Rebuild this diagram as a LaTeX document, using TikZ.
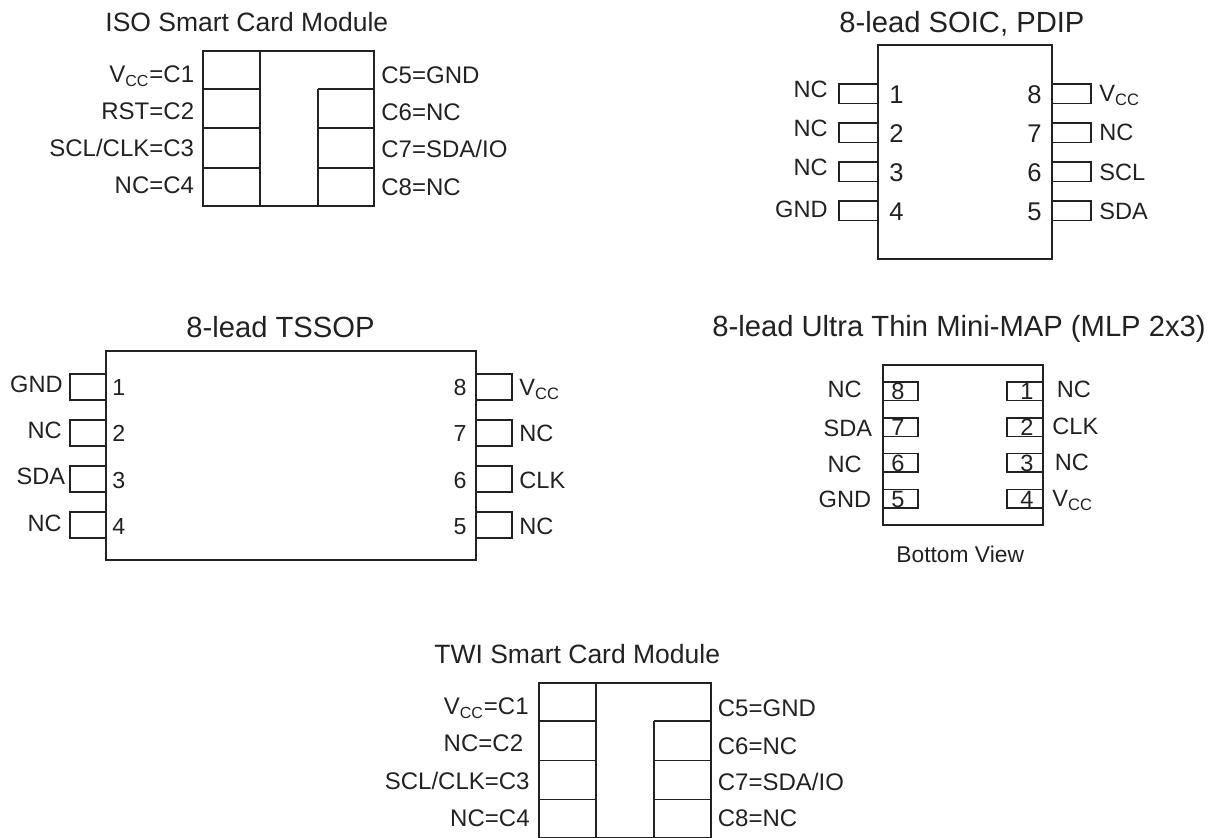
\documentclass[tikz,border=0pt]{standalone}
\usepackage{fontspec}
\setmainfont{Liberation Sans}
\newcommand{\Vcc}{V\textsubscript{CC}}
\tikzset{
	part/.style={draw=ink, line width=0.6pt},
	ttlbig/.style={font=\fontsize{14.6}{17}\selectfont, text=ink, inner sep=0pt, anchor=base west},
	ttlsmall/.style={font=\fontsize{13.25}{16}\selectfont, text=ink, inner sep=0pt, anchor=base west},
	pinl/.style={font=\fontsize{11.8}{14}\selectfont, text=ink, inner sep=0pt, anchor=base east},
	pinr/.style={font=\fontsize{11.8}{14}\selectfont, text=ink, inner sep=0pt, anchor=base west},
	cardl/.style={pinl, font=\fontsize{12}{14}\selectfont},
	cardr/.style={pinr, font=\fontsize{12}{14}\selectfont},
	numl/.style={font=\fontsize{12.8}{14}\selectfont, text=ink, inner sep=0pt, anchor=base west},
	numr/.style={font=\fontsize{12.8}{14}\selectfont, text=ink, inner sep=0pt, anchor=base east},
	numc/.style={font=\fontsize{11.8}{14}\selectfont, text=ink, inner sep=0pt, anchor=base}
}
\definecolor{ink}{HTML}{222222}
\begin{document}
\begin{tikzpicture}[x=0.5pt,y=-0.5pt]
	\useasboundingbox (0,0) rectangle (1218,838);
	% ISO module
	\node[ttlsmall] (isotitle) at (105,32) {ISO Smart Card Module};
	\draw[part] (203,51) rectangle (374,206);
	\draw[part] (260,51) -- (260,206);
	\draw[part] (318,89) -- (318,206);
	\foreach \y in {89,128,168} {
		\draw[part] (203,\y) -- (260,\y);
		\draw[part] (318,\y) -- (374,\y);
	}
	\foreach \y/\t/\n in {83/{\Vcc=C1}/a,120/{RST=C2}/b,157/{SCL/CLK=C3}/c,194/{NC=C4}/d}
		\node[cardl] (iso\n) at (194.5,\y) {\t};
	\foreach \y/\t/\n in {84/{C5=GND}/e,121/{C6=NC}/f,158/{C7=SDA/IO}/g,196/{C8=NC}/h}
		\node[cardr] (iso\n) at (381,\y) {\t};
	% SOIC, PDIP
	\node[ttlbig] (soictitle) at (839,33) {8-lead SOIC, PDIP};
	\draw[part] (878,45) rectangle (1052,259);
	\foreach \y in {84,123,162,201} {
		\draw[part] (878,\y) -- (839,\y) -- (839,\y+19.5) -- (878,\y+19.5);
		\draw[part] (1052,\y) -- (1091,\y) -- (1091,\y+19.5) -- (1052,\y+19.5);
	}
	\foreach \y/\t/\n in {98/NC/a,137/NC/b,176/NC/c,218/GND/d}
		\node[pinl] (soic\n) at (828,\y) {\t};
	\foreach \y/\t/\n in {102/{\Vcc}/e,141/NC/f,181/SCL/g,220/SDA/h}
		\node[pinr] (soic\n) at (1099,\y) {\t};
	\foreach \y/\t in {104/1,143/2,182/3,221/4}
		\node[numl] (soicnum\t) at (889,\y) {\t};
	\foreach \y/\t in {104/8,143/7,182/6,221/5}
		\node[numr] (soicnum\t) at (1042,\y) {\t};
	% TSSOP
	\node[ttlbig] (tssoptitle) at (186,338) {8-lead TSSOP};
	\draw[part] (106,351) rectangle (476,560);
	\foreach \y in {374,420,466,512} {
		\draw[part] (106,\y) -- (70,\y) -- (70,\y+26) -- (106,\y+26);
		\draw[part] (476,\y) -- (512,\y) -- (512,\y+26) -- (476,\y+26);
	}
	\node[pinl] (tssopa) at (63,393) {GND};
	\node[pinl] (tssopb) at (62,439) {NC};
	\node[pinl] (tssopc) at (65.5,485) {SDA};
	\node[pinl] (tssopd) at (62,531) {NC};
	\foreach \y/\t/\n in {396/{\Vcc}/e,442/NC/f,488/CLK/g,534/NC/h}
		\node[pinr] (tssop\n) at (519,\y) {\t};
	\foreach \y/\t in {396/1,442/2,488/3,534/4}
		\node[numl,font=\fontsize{11.6}{14}\selectfont] (tssopnum\t) at (112,\y) {\t};
	\foreach \y/\t in {396/8,442/7,488/6,534/5}
		\node[numr,font=\fontsize{11.6}{14}\selectfont] (tssopnum\t) at (467,\y) {\t};
	% Mini-MAP
	\node[ttlbig] (maptitle) at (712,337) {8-lead Ultra Thin Mini-MAP (MLP 2x3)};
	\draw[part] (883,365) rectangle (1043,525);
	\foreach \y in {382,418,453.5,489.5} {
		\draw[part] (883,\y) rectangle (918,\y+18.5);
		\draw[part] (1007,\y) rectangle (1043,\y+18.5);
	}
	\foreach \y/\t in {399.5/8,435.5/7,471.5/6,507/5}
		\node[numc] (mapnum\t) at (898,\y) {\t};
	\foreach \y/\t in {399.5/1,435.5/2,471.5/3,507/4}
		\node[numc] (mapnum\t) at (1027,\y) {\t};
	\node[pinl] (mapa) at (862,398) {NC};
	\node[pinl] (mapb) at (872.5,436.5) {SDA};
	\node[pinl] (mapc) at (862,472.5) {NC};
	\node[pinl] (mapd) at (871.5,507.5) {GND};
	\node[pinr] (mape) at (1056.5,398) {NC};
	\node[pinr] (mapf) at (1052,434.5) {CLK};
	\node[pinr] (mapg) at (1054.5,471) {NC};
	\node[pinr] (maph) at (1052,506.5) {\Vcc};
	\node[pinr,font=\fontsize{11.4}{14}\selectfont] (mapview) at (896,562.5) {Bottom View};
	% TWI module
	\node[ttlsmall] (twititle) at (434,663) {TWI Smart Card Module};
	\draw[part] (539,683) rectangle (711,837.5);
	\draw[part] (596,683) -- (596,837.5);
	\draw[part] (654,721) -- (654,837.5);
	\foreach \y in {721,760.5,799.5} {
		\draw[part] (539,\y) -- (596,\y);
		\draw[part] (654,\y) -- (711,\y);
	}
	\node[cardl] (twia) at (529,714.5) {\Vcc=C1};
	\node[cardl] (twib) at (523.5,751) {NC=C2};
	\node[cardl] (twic) at (530,789) {SCL/CLK=C3};
	\node[cardl] (twid) at (530,826.5) {NC=C4};
	\foreach \y/\t/\n in {716/{C5=GND}/e,754/{C6=NC}/f,790/{C7=SDA/IO}/g,826.5/{C8=NC}/h}
		\node[cardr] (twi\n) at (717.5,\y) {\t};
\end{tikzpicture}
\end{document}
